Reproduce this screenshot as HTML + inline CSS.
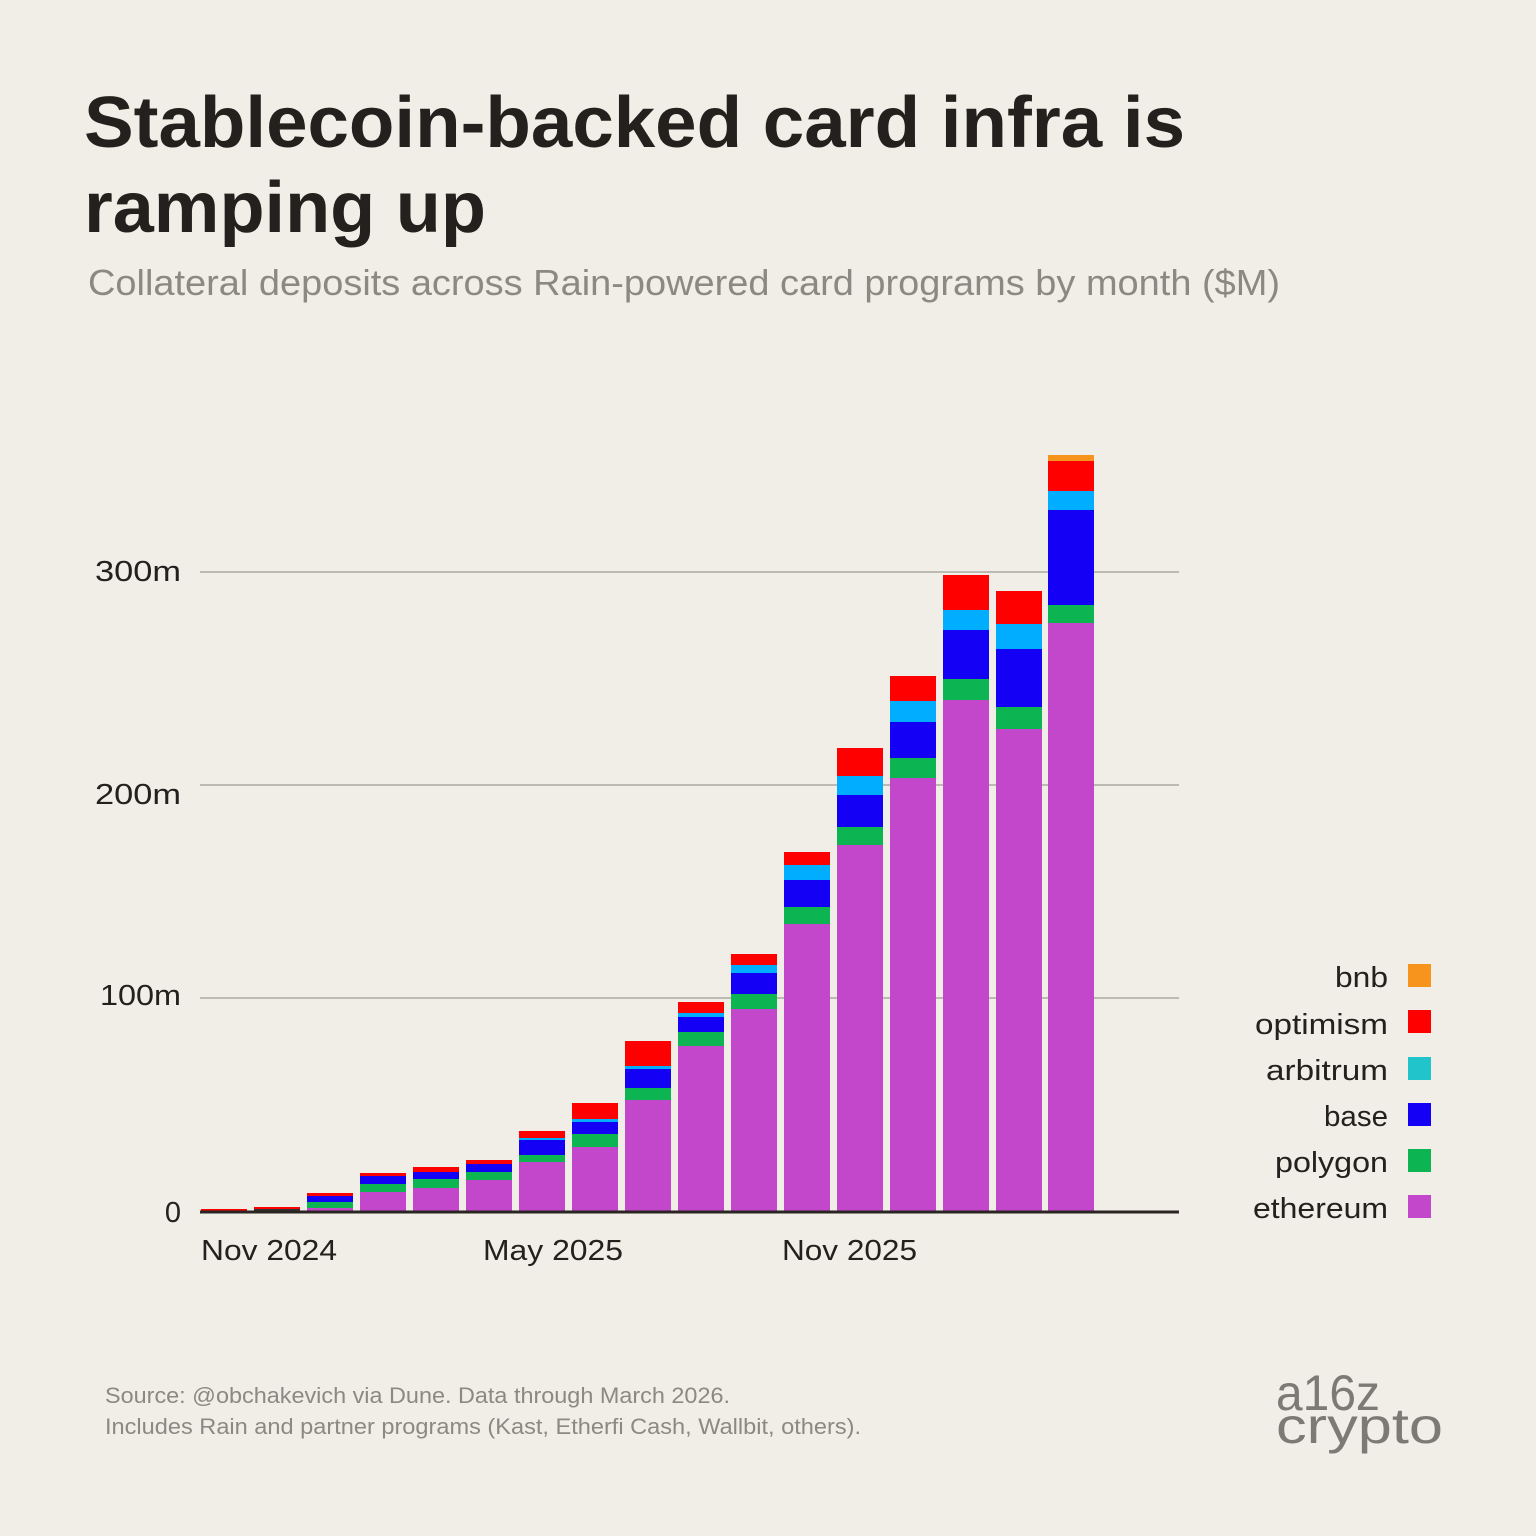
<!DOCTYPE html>
<html><head><meta charset="utf-8"><style>
html,body{margin:0;padding:0;background:#f0eee7;}
svg{display:block}
text{font-family:"Liberation Sans",sans-serif}
.e{fill:#c247cb}.p{fill:#0db552}.b{fill:#1400f5}.a{fill:#00adff}.o{fill:#ff0000}.n{fill:#f7941d}
</style></head><body>
<svg width="1536" height="1536" viewBox="0 0 1536 1536" xmlns="http://www.w3.org/2000/svg">
<rect width="1536" height="1536" fill="#f0eee7"/>
<text x="84" y="147" font-size="72" font-weight="bold" fill="#24201d" textLength="1101" lengthAdjust="spacingAndGlyphs">Stablecoin-backed card infra is</text>
<text x="84" y="232" font-size="72" font-weight="bold" fill="#24201d" textLength="402" lengthAdjust="spacingAndGlyphs">ramping up</text>
<text x="88" y="295" font-size="36" fill="#8c8882" textLength="1192" lengthAdjust="spacingAndGlyphs">Collateral deposits across Rain-powered card programs by month ($M)</text>
<g stroke="#bdbab3" stroke-width="2">
<line x1="200" y1="572" x2="1179" y2="572"/>
<line x1="200" y1="785" x2="1179" y2="785"/>
<line x1="200" y1="998" x2="1179" y2="998"/>
</g>
<g font-size="29" fill="#24201d" text-anchor="end">
<text x="181" y="581" textLength="86" lengthAdjust="spacingAndGlyphs">300m</text>
<text x="181" y="804" textLength="86" lengthAdjust="spacingAndGlyphs">200m</text>
<text x="181" y="1005" textLength="81" lengthAdjust="spacingAndGlyphs">100m</text>
<text x="181" y="1222">0</text>
</g>
<g>
<!-- bar1 -->
<rect class="o" x="201" y="1209" width="46" height="3"/>
<!-- bar2 -->
<rect class="o" x="254" y="1207" width="46" height="3"/>
<rect x="254" y="1209" width="46" height="3" fill="#333"/>
<!-- bar3 -->
<rect class="e" x="307" y="1208" width="46" height="4"/>
<rect class="p" x="307" y="1202" width="46" height="6"/>
<rect class="b" x="307" y="1196" width="46" height="6"/>
<rect class="o" x="307" y="1193" width="46" height="3"/>
<!-- bar4 -->
<rect class="e" x="360" y="1192" width="46" height="20"/>
<rect class="p" x="360" y="1184" width="46" height="8"/>
<rect class="b" x="360" y="1176" width="46" height="8"/>
<rect class="o" x="360" y="1173" width="46" height="3"/>
<!-- bar5 -->
<rect class="e" x="413" y="1188" width="46" height="24"/>
<rect class="p" x="413" y="1179" width="46" height="9"/>
<rect class="b" x="413" y="1172" width="46" height="7"/>
<rect class="o" x="413" y="1167" width="46" height="5"/>
<!-- bar6 -->
<rect class="e" x="466" y="1180" width="46" height="32"/>
<rect class="p" x="466" y="1172" width="46" height="8"/>
<rect class="b" x="466" y="1164" width="46" height="8"/>
<rect class="o" x="466" y="1160" width="46" height="4"/>
<!-- bar7 -->
<rect class="e" x="519" y="1162" width="46" height="50"/>
<rect class="p" x="519" y="1155" width="46" height="7"/>
<rect class="b" x="519" y="1140" width="46" height="15"/>
<rect class="a" x="519" y="1138" width="46" height="2"/>
<rect class="o" x="519" y="1131" width="46" height="7"/>
<!-- bar8 -->
<rect class="e" x="572" y="1147" width="46" height="65"/>
<rect class="p" x="572" y="1134" width="46" height="13"/>
<rect class="b" x="572" y="1122" width="46" height="12"/>
<rect class="a" x="572" y="1119" width="46" height="3"/>
<rect class="o" x="572" y="1103" width="46" height="16"/>
<!-- bar9 -->
<rect class="e" x="625" y="1100" width="46" height="112"/>
<rect class="p" x="625" y="1088" width="46" height="12"/>
<rect class="b" x="625" y="1069" width="46" height="19"/>
<rect class="a" x="625" y="1066" width="46" height="3"/>
<rect class="o" x="625" y="1041" width="46" height="25"/>
<!-- bar10 -->
<rect class="e" x="678" y="1046" width="46" height="166"/>
<rect class="p" x="678" y="1032" width="46" height="14"/>
<rect class="b" x="678" y="1017" width="46" height="15"/>
<rect class="a" x="678" y="1013" width="46" height="4"/>
<rect class="o" x="678" y="1002" width="46" height="11"/>
<!-- bar11 -->
<rect class="e" x="731" y="1009" width="46" height="203"/>
<rect class="p" x="731" y="994" width="46" height="15"/>
<rect class="b" x="731" y="973" width="46" height="21"/>
<rect class="a" x="731" y="965" width="46" height="8"/>
<rect class="o" x="731" y="954" width="46" height="11"/>
<!-- bar12 -->
<rect class="e" x="784" y="924" width="46" height="288"/>
<rect class="p" x="784" y="907" width="46" height="17"/>
<rect class="b" x="784" y="880" width="46" height="27"/>
<rect class="a" x="784" y="865" width="46" height="15"/>
<rect class="o" x="784" y="852" width="46" height="13"/>
<!-- bar13 -->
<rect class="e" x="837" y="845" width="46" height="367"/>
<rect class="p" x="837" y="827" width="46" height="18"/>
<rect class="b" x="837" y="795" width="46" height="32"/>
<rect class="a" x="837" y="776" width="46" height="19"/>
<rect class="o" x="837" y="748" width="46" height="28"/>
<!-- bar14 -->
<rect class="e" x="890" y="778" width="46" height="434"/>
<rect class="p" x="890" y="758" width="46" height="20"/>
<rect class="b" x="890" y="722" width="46" height="36"/>
<rect class="a" x="890" y="701" width="46" height="21"/>
<rect class="o" x="890" y="676" width="46" height="25"/>
<!-- bar15 -->
<rect class="e" x="943" y="700" width="46" height="512"/>
<rect class="p" x="943" y="679" width="46" height="21"/>
<rect class="b" x="943" y="630" width="46" height="49"/>
<rect class="a" x="943" y="610" width="46" height="20"/>
<rect class="o" x="943" y="575" width="46" height="35"/>
<!-- bar16 -->
<rect class="e" x="996" y="729" width="46" height="483"/>
<rect class="p" x="996" y="707" width="46" height="22"/>
<rect class="b" x="996" y="649" width="46" height="58"/>
<rect class="a" x="996" y="624" width="46" height="25"/>
<rect class="o" x="996" y="591" width="46" height="33"/>
<!-- bar17 -->
<rect class="e" x="1048" y="623" width="46" height="589"/>
<rect class="p" x="1048" y="605" width="46" height="18"/>
<rect class="b" x="1048" y="510" width="46" height="95"/>
<rect class="a" x="1048" y="491" width="46" height="19"/>
<rect class="o" x="1048" y="461" width="46" height="30"/>
<rect class="n" x="1048" y="455" width="46" height="6"/>
</g>
<line x1="200" y1="1212" x2="1179" y2="1212" stroke="#2a2522" stroke-width="3"/>
<g font-size="29" fill="#24201d">
<text x="201" y="1260" textLength="136" lengthAdjust="spacingAndGlyphs">Nov 2024</text>
<text x="483" y="1260" textLength="140" lengthAdjust="spacingAndGlyphs">May 2025</text>
<text x="782" y="1260" textLength="135" lengthAdjust="spacingAndGlyphs">Nov 2025</text>
</g>
<g font-size="29" fill="#24201d" text-anchor="end">
<text x="1388" y="987" textLength="53" lengthAdjust="spacingAndGlyphs">bnb</text>
<text x="1388" y="1034" textLength="133" lengthAdjust="spacingAndGlyphs">optimism</text>
<text x="1388" y="1080" textLength="122" lengthAdjust="spacingAndGlyphs">arbitrum</text>
<text x="1388" y="1126" textLength="64" lengthAdjust="spacingAndGlyphs">base</text>
<text x="1388" y="1172" textLength="113" lengthAdjust="spacingAndGlyphs">polygon</text>
<text x="1388" y="1218" textLength="135" lengthAdjust="spacingAndGlyphs">ethereum</text>
</g>
<rect x="1408" y="964" width="23" height="23" fill="#f7941d"/>
<rect x="1408" y="1010" width="23" height="23" fill="#ff0000"/>
<rect x="1408" y="1057" width="23" height="23" fill="#22c4cc"/>
<rect x="1408" y="1103" width="23" height="23" fill="#1400f5"/>
<rect x="1408" y="1149" width="23" height="23" fill="#0db552"/>
<rect x="1408" y="1195" width="23" height="23" fill="#c247cb"/>
<g font-size="22" fill="#8c8882">
<text x="105" y="1403" textLength="625" lengthAdjust="spacingAndGlyphs">Source: @obchakevich via Dune. Data through March 2026.</text>
<text x="105" y="1434" textLength="756" lengthAdjust="spacingAndGlyphs">Includes Rain and partner programs (Kast, Etherfi Cash, Wallbit, others).</text>
</g>
<g font-size="50" fill="#7d7975">
<text x="1276" y="1410" textLength="104" lengthAdjust="spacingAndGlyphs">a16z</text>
<text x="1276" y="1443" textLength="167" lengthAdjust="spacingAndGlyphs">crypto</text>
</g>
</svg>
</body></html>
